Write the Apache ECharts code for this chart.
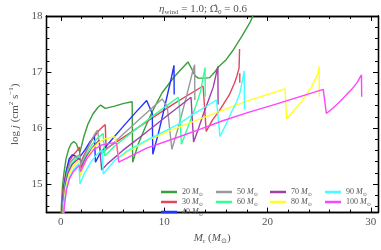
<!DOCTYPE html>
<html><head><meta charset="utf-8">
<script src="https://cdn.jsdelivr.net/npm/echarts@6/dist/echarts.min.js"></script>
<style>html,body{margin:0;padding:0;background:#fff}#c{width:381px;height:250px}</style>
</head><body><div id="c"></div>
<script>
// ---- data ----
const masses = ['20', '30', '40', '50', '60', '70', '80', '90', '100'];
const colors = ['#3a9e3a', '#e5455e', '#2233ff', '#999999', '#33ff99', '#a040a8', '#ffff22', '#44ffff', '#ff44ff'];
const m20 = [[0.0,14.3],[0.05,14.6],[0.15,14.95],[0.3,15.2],[0.5,15.45],[0.75,15.62],[1.0,15.72],[1.25,15.76],[1.5,15.72],[1.7,15.62],[1.85,15.57],[2.2,15.83],[2.6,16.06],[3.1,16.25],[3.6,16.37],[3.85,16.41],[4.3,16.35],[5.2,16.39],[6.1,16.44],[6.9,16.47],[6.95,15.39],[7.5,15.72],[8.3,16.07],[9.0,16.35],[9.8,16.63],[11.0,16.92],[12.3,17.18],[12.6,17.08],[13.0,16.93],[13.3,16.89],[14.0,16.89],[14.4,16.9],[14.9,17.0],[15.3,17.1],[16.0,17.22],[16.6,17.37],[17.5,17.63],[18.3,17.88],[18.7,18.05],[19.0,18.2]];
const m30 = [[0.03,14.3],[0.1,14.6],[0.25,14.95],[0.5,15.22],[0.8,15.4],[1.2,15.52],[1.5,15.58],[1.8,15.66],[1.87,15.36],[2.2,15.5],[2.7,15.68],[3.2,15.84],[3.7,15.96],[4.1,16.03],[4.3,16.06],[4.38,15.63],[5.2,15.73],[7.0,15.95],[9.0,16.2],[11.0,16.44],[13.77,16.75],[14.07,15.94],[14.7,16.15],[15.35,16.31],[16.3,16.59],[16.8,16.8],[17.0,16.9],[17.25,17.07],[17.3,17.41],[17.3,'-'],[17.32,16.98],[17.32,16.81]];
const m40 = [[0.08,14.3],[0.15,14.6],[0.3,14.95],[0.55,15.25],[0.8,15.45],[1.1,15.52],[1.4,15.5],[1.7,15.45],[1.87,15.42],[2.3,15.6],[2.8,15.75],[3.25,15.85],[3.35,15.39],[3.8,15.55],[4.5,15.7],[6.0,16.02],[7.2,16.27],[8.3,16.49],[8.85,16.26],[8.9,15.53],[9.5,15.95],[10.2,16.5],[10.7,16.9],[10.95,17.12],[10.97,16.6]];
const m50 = [[0.1,14.3],[0.18,14.6],[0.35,14.95],[0.6,15.22],[0.9,15.38],[1.3,15.47],[1.6,15.5],[1.82,15.52],[1.88,15.33],[2.3,15.5],[2.8,15.72],[3.3,15.9],[3.55,15.96],[3.9,15.53],[5.5,15.8],[7.5,16.14],[9.8,16.52],[10.3,16.38],[10.75,15.62],[11.35,16.0],[12.1,16.52],[12.75,17.0],[12.95,17.13],[12.97,16.5]];
const m60 = [[0.12,14.3],[0.2,14.6],[0.38,14.95],[0.65,15.2],[1.0,15.35],[1.4,15.44],[1.82,15.5],[1.88,15.28],[2.4,15.5],[3.0,15.7],[3.6,15.83],[4.1,15.9],[4.25,15.5],[5.2,15.68],[7.0,15.94],[9.0,16.23],[11.35,16.55],[11.45,16.45],[11.67,15.71],[12.3,16.02],[13.0,16.36],[13.5,16.64],[13.96,17.08],[13.98,16.56]];
const m70 = [[0.14,14.3],[0.22,14.6],[0.4,14.95],[0.7,15.2],[1.1,15.35],[1.5,15.42],[1.83,15.46],[1.9,15.28],[2.5,15.5],[3.1,15.66],[3.7,15.78],[3.95,15.25],[4.5,15.36],[6.0,15.6],[8.3,15.93],[10.5,16.25],[12.6,16.55],[12.85,15.75],[13.3,15.98],[13.8,16.25],[14.3,16.5],[14.75,16.73],[15.2,17.1],[15.22,16.42]];
const m80 = [[0.18,14.3],[0.26,14.6],[0.45,14.92],[0.75,15.15],[1.1,15.3],[1.5,15.38],[1.8,15.42],[1.88,15.14],[2.4,15.42],[3.1,15.64],[3.7,15.75],[4.3,15.81],[5.0,15.84],[5.25,15.84],[5.6,15.46],[6.5,15.58],[8.3,15.77],[10.5,15.95],[12.6,16.1],[15.0,16.27],[18.0,16.48],[21.7,16.7],[21.85,16.16],[22.5,16.3],[23.3,16.47],[24.26,16.73],[24.9,16.98],[25.0,17.1],[25.02,16.56]];
const m90 = [[0.22,14.3],[0.3,14.6],[0.5,14.9],[0.8,15.1],[1.2,15.25],[1.5,15.32],[1.75,15.36],[1.85,15.0],[2.3,15.2],[3.0,15.42],[3.5,15.53],[4.0,15.61],[4.1,15.18],[5.2,15.42],[6.5,15.6],[8.3,15.78],[11.4,16.07],[12.6,16.22],[14.0,16.38],[15.06,16.5],[15.4,15.85],[16.0,16.07],[16.55,16.3],[17.0,16.46],[17.35,16.64],[17.75,17.02],[17.77,16.33]];
const m100 = [[0.25,14.3],[0.33,14.6],[0.55,14.9],[0.85,15.1],[1.2,15.22],[1.6,15.3],[1.8,15.33],[1.9,15.22],[2.5,15.45],[3.2,15.62],[4.0,15.7],[4.8,15.73],[5.4,15.73],[5.6,15.39],[6.47,15.47],[8.3,15.64],[11.4,15.84],[13.5,15.98],[15.67,16.13],[18.0,16.27],[20.9,16.43],[25.4,16.69],[25.7,16.26],[26.3,16.35],[27.0,16.47],[28.2,16.7],[28.7,16.82],[29.1,16.95],[29.12,16.56]];
const seriesData = [m20, m30, m40, m50, m60, m70, m80, m90, m100];
const xTickLabels = [0, 10, 20, 30];
const yTickLabels = [15, 16, 17, 18];
const legendColumns = [['20', '30', '40'], ['50', '60'], ['70', '80'], ['90', '100']];

// ---- layout/style ----
const XMIN = -1.4, XMAX = 30.7, YMIN = 14.49, YMAX = 18;
const FONT = 'Liberation Serif';
const TXT = '#555';
const xMinor = []; for (let v = 0; v <= 30; v += 2) xMinor.push(v);
const yMinor = []; for (let k = 0; k <= 17; k++) yMinor.push(Math.round((14.6 + 0.2 * k) * 10) / 10);

const base = { fontFamily: FONT, color: TXT, fontWeight: 'normal' };
const richCommon = {
  t: { ...base, fontSize: 11, lineHeight: 14 },
  i: { ...base, fontSize: 11, lineHeight: 14, fontStyle: 'italic' },
  om: { ...base, fontFamily: 'DejaVu Serif', fontSize: 10, lineHeight: 14 },
  sub: { ...base, fontSize: 7, lineHeight: 7, verticalAlign: 'bottom' },
  sup: { ...base, fontSize: 7, lineHeight: 7, verticalAlign: 'top' }
};
const lineAx = { show: true, onZero: false, lineStyle: { color: '#000', width: 1.3 } };

function xAxisDef(pos, ticks, len, labels, extra) {
  return Object.assign({
    type: 'value', position: pos, min: XMIN, max: XMAX, gridIndex: 0,
    axisLine: lineAx, splitLine: { show: false },
    axisTick: { show: true, inside: true, length: len, customValues: ticks, lineStyle: { color: '#000', width: 1 } },
    axisLabel: labels ? { customValues: labels, color: TXT, fontFamily: FONT, fontSize: 11, margin: 4 } : { show: false }
  }, extra || {});
}
function yAxisDef(pos, ticks, len, labels, extra) {
  return Object.assign({
    type: 'value', position: pos, min: YMIN, max: YMAX, gridIndex: 0,
    axisLine: lineAx, splitLine: { show: false },
    axisTick: { show: true, inside: true, length: len, customValues: ticks, lineStyle: { color: '#000', width: 1 } },
    axisLabel: labels ? { customValues: labels, color: TXT, fontFamily: FONT, fontSize: 11, margin: 4 } : { show: false }
  }, extra || {});
}

const series = seriesData.map((d, i) => ({
  name: masses[i], type: 'line', data: d, symbol: 'none', showSymbol: false,
  xAxisIndex: 0, yAxisIndex: 0, clip: true, silent: true, connectNulls: false,
  lineStyle: { width: 1.4, color: colors[i] }, itemStyle: { color: colors[i] }
}));

const legendX = [161, 216, 270, 325];
const legends = legendColumns.map((names, c) => ({
  data: names, orient: 'vertical', left: legendX[c], top: 187, padding: 0,
  itemWidth: 16, itemHeight: 2.5, itemGap: 0, icon: 'rect', selectedMode: false,
  formatter: n => `{n|${n} }{m|M}{s|⊙}`,
  textStyle: {
    lineHeight: 10, fontWeight: 'normal',
    rich: {
      n: { fontFamily: FONT, color: TXT, fontSize: 8, lineHeight: 10 },
      m: { fontFamily: FONT, color: TXT, fontSize: 8, lineHeight: 10, fontStyle: 'italic' },
      s: { fontFamily: 'DejaVu Sans', color: TXT, fontSize: 5, lineHeight: 6, verticalAlign: 'bottom' }
    }
  }
}));

const chart = echarts.init(document.getElementById('c'), null, { renderer: 'canvas' });
chart.setOption({
  animation: false,
  backgroundColor: '#fff',
  title: {
    text: '{i|η}{sub|wind}{t| = 1.0; }{om|Ω̂}{sub|0}{t| = 0.6}',
    left: 203, top: 2, textAlign: 'center', padding: 0,
    textStyle: { fontWeight: 'normal', rich: richCommon }
  },
  grid: { left: 28, right: 3, top: 16, bottom: 27, containLabel: false },
  legend: legends,
  xAxis: [
    xAxisDef('bottom', xTickLabels, 5, xTickLabels, {
      name: '{i|M}{sub|r}{t| (}{i|M}{sub|⊙}{t|)}', nameLocation: 'middle', nameGap: 17,
      nameTextStyle: { fontWeight: 'normal', rich: richCommon }
    }),
    xAxisDef('bottom', xMinor, 3, null),
    xAxisDef('top', xTickLabels, 5, null),
    xAxisDef('top', xMinor, 3, null)
  ],
  yAxis: [
    yAxisDef('left', yTickLabels, 5, yTickLabels, {
      name: '{t|log }{i|j}{t| (cm}{sup|2}{t| s}{sup|−1}{t|)}', nameLocation: 'middle', nameGap: 18, nameRotate: 90,
      nameTextStyle: { fontWeight: 'normal', rich: richCommon }
    }),
    yAxisDef('left', yMinor, 3, null),
    yAxisDef('right', yTickLabels, 5, null),
    yAxisDef('right', yMinor, 3, null)
  ],
  series: series
});
</script>
</body></html>
